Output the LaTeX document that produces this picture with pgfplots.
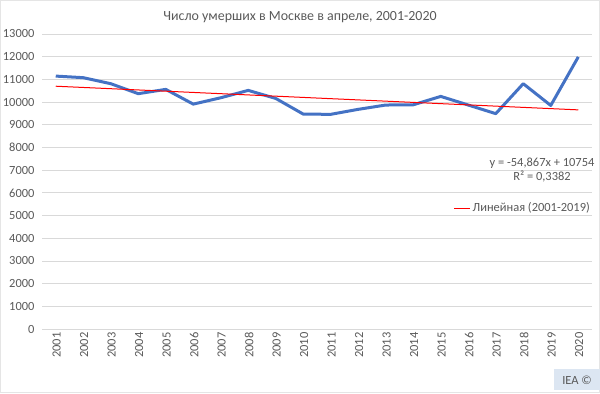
\documentclass[border=0pt]{standalone}
\usepackage{fontspec}
\setmainfont{Carlito}
\usepackage{pgfplots}
\pgfplotsset{compat=1.18}
\definecolor{linblue}{HTML}{4472C4}
\definecolor{gridgray}{HTML}{D9D9D9}
\definecolor{txtgray}{HTML}{595959}
\definecolor{ieabox}{HTML}{DCE6F2}
\begin{document}
\begin{tikzpicture}[x=1bp,y=1bp]
\path[use as bounding box] (0,0) rectangle (600,393);
\draw[gray!20] (0.5,0.5) rectangle (599.5,392.5);
\begin{axis}[at={(42bp,64bp)}, anchor=south west, scale only axis,
  width=550bp, height=295bp,
  xmin=2000.5, xmax=2020.5, ymin=0, ymax=13000,
  ytick={0,1000,...,13000}, xtick={2001,...,2020},
  scaled y ticks=false,
  /pgf/number format/assume math mode=true,
  /pgf/number format/1000 sep={},
  axis line style={draw=none}, major tick length=0pt,
  ymajorgrids, grid style={gridgray, line width=0.8pt},
  tick label style={font=\fontsize{12.5}{14}\selectfont, text=txtgray},
  yticklabel style={xshift=-4bp},
  xticklabel style={rotate=90, anchor=east, xshift=0bp, yshift=-1bp},
  legend style={at={(1,0.41)}, anchor=east, draw=none, fill=none, inner sep=0pt,
    font=\fontsize{12.5}{14}\selectfont, text=txtgray},
  legend image code/.code={\draw[#1] (0bp,0bp) -- (16bp,0bp);},
  clip=false,
]
\addplot[linblue, line width=3bp, line join=round, forget plot] coordinates {
(2001,11145) (2002,11075) (2003,10810) (2004,10370) (2005,10560)
(2006,9910) (2007,10190) (2008,10515) (2009,10160) (2010,9470)
(2011,9460) (2012,9680) (2013,9870) (2014,9880) (2015,10250)
(2016,9870) (2017,9490) (2018,10810) (2019,9850) (2020,11990)};
\addplot[red, line width=1bp] coordinates {(2001,10699.1) (2020,9656.7)};
\addlegendentry{Линейная (2001-2019)}
\end{axis}
\node[font=\fontsize{14}{16}\selectfont, text=txtgray] at (300,376) {Число умерших в Москве в апреле, 2001-2020};
\node[font=\fontsize{12.5}{14.5}\selectfont, text=txtgray, align=center] at (542,223) {y = -54,867x + 10754\\R² = 0,3382};
\fill[ieabox] (554,3) rectangle (600,24);
\node[font=\fontsize{12.5}{14}\selectfont, text=txtgray] at (577,13) {IEA ©};
\end{tikzpicture}
\end{document}
